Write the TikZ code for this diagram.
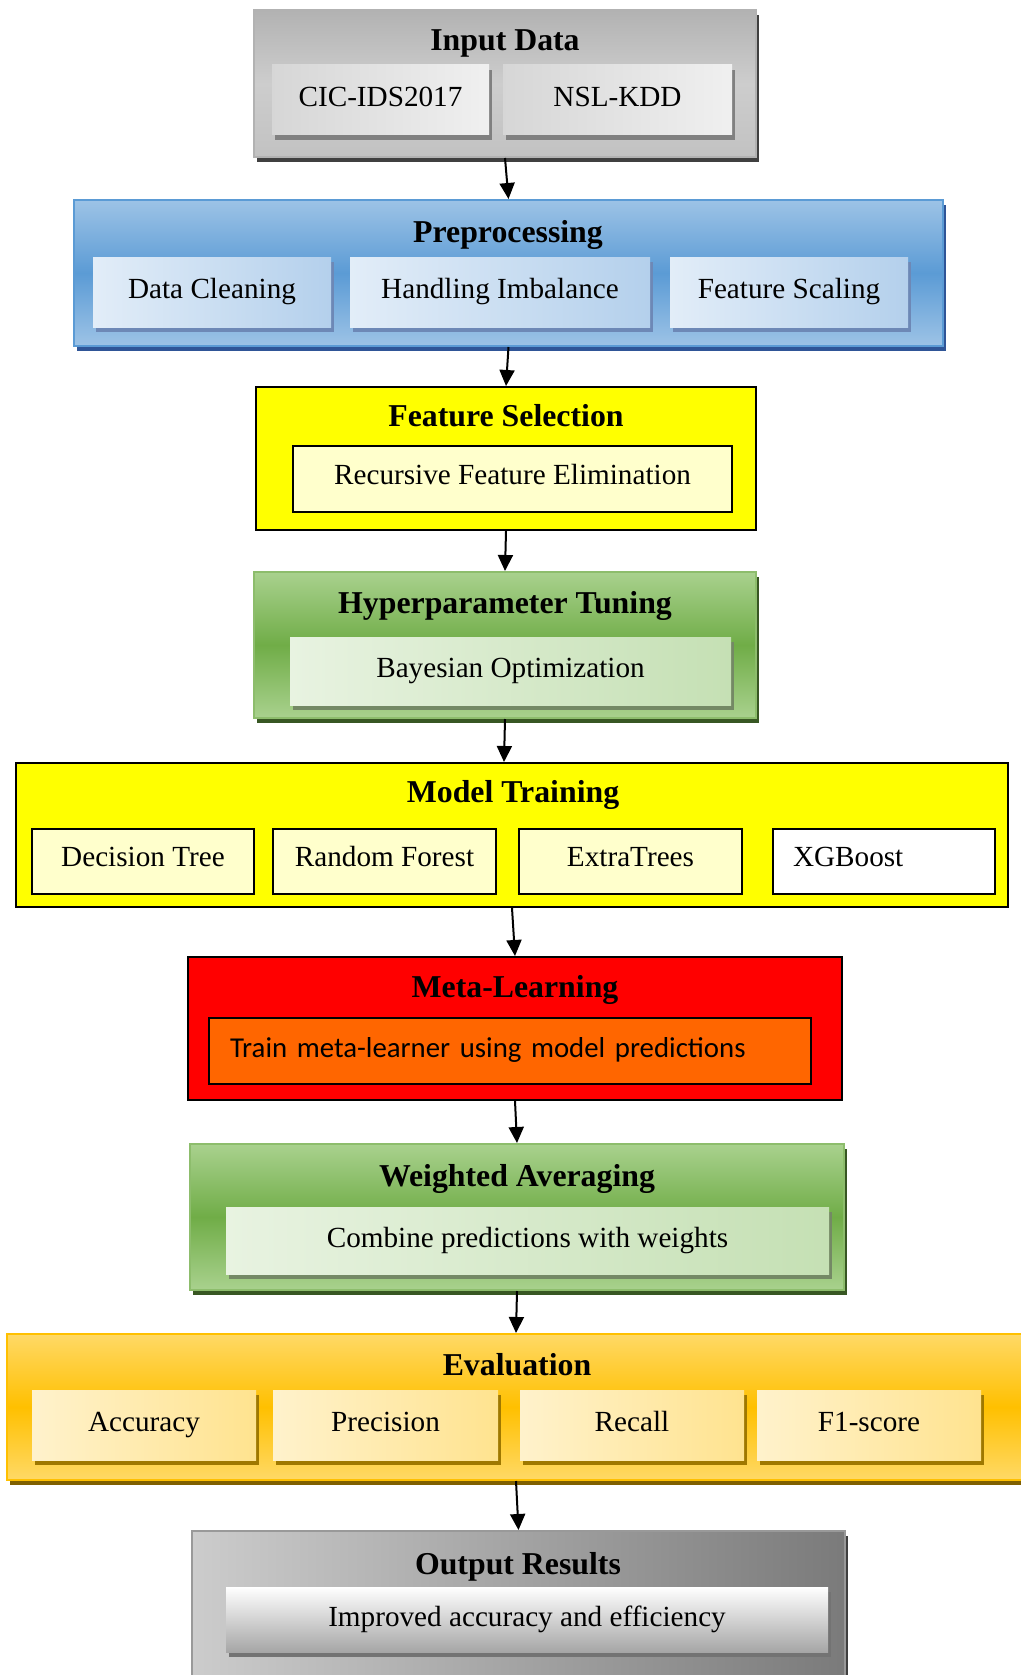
\documentclass[tikz,border=0pt]{standalone}
\usepackage{fontspec}
\setmainfont{Liberation Serif}
\newfontfamily\calibri{Carlito}
\usepackage{tikz}
\usetikzlibrary{arrows.meta, shadows}
\definecolor{grishaut}{HTML}{B2B2B2}
\definecolor{grismilieu}{HTML}{CDCDCD}
\definecolor{grisbas}{HTML}{C2C2C2}
\definecolor{grisombre}{HTML}{404040}
\definecolor{bleuclair}{HTML}{9DC3E6}
\definecolor{bleumoyen}{HTML}{5B9BD5}
\definecolor{bleuombre}{HTML}{2F5597}
\definecolor{bleupale}{HTML}{E2EDF8}
\definecolor{bleudoux}{HTML}{B4D0EC}
\definecolor{vertclair}{HTML}{A9D18E}
\definecolor{vertmoyen}{HTML}{70AD47}
\definecolor{vertombre}{HTML}{385723}
\definecolor{vertpale}{HTML}{E8F3E1}
\definecolor{vertdoux}{HTML}{C5E0B4}
\definecolor{orclair}{HTML}{FFD966}
\definecolor{ormoyen}{HTML}{FFC000}
\definecolor{orombre}{HTML}{7F6000}
\definecolor{orpale}{HTML}{FFF2CC}
\definecolor{ordoux}{HTML}{FFE38F}
\definecolor{jaunevif}{HTML}{FFFF00}
\definecolor{jaunepale}{HTML}{FFFFCC}
\definecolor{rougevif}{HTML}{FF0000}
\definecolor{orangevif}{HTML}{FF6600}

\begin{document}
\begin{tikzpicture}[x=0.5pt, y=-0.5pt,
    etape/.style={rectangle, inner sep=0pt, line width=1pt},
    titre/.style={font=\fontsize{15.9}{19}\selectfont\bfseries,
                  text height=10.5pt, text depth=2.5pt},
    sous/.style={rectangle, inner sep=0pt, font=\fontsize{14.6}{17}\selectfont,
                 text height=9.5pt, text depth=3pt},
    ombre/.style={drop shadow={shadow xshift=1.5pt, shadow yshift=-2.5pt,
                  fill=#1, opacity=1}},
    boitegris/.style={etape, ombre=grisombre, draw=black!30,
                      top color=grishaut, bottom color=grisbas, middle color=grismilieu},
    boitebleu/.style={etape, ombre=bleuombre, draw=bleumoyen,
                      top color=bleuclair, bottom color=bleuclair, middle color=bleumoyen},
    boitevert/.style={etape, ombre=vertombre, draw=vertmoyen!80,
                      top color=vertclair, bottom color=vertclair, middle color=vertmoyen},
    boiteor/.style={etape, ombre=orombre, draw=ormoyen,
                    top color=orclair, bottom color=orclair, middle color=ormoyen},
    boitejaune/.style={etape, fill=jaunevif, draw=black},
    sousgris/.style={sous, ombre=black!50, left color=black!16, right color=black!6},
    sousbleu/.style={sous, ombre=bleuombre!70, left color=bleupale, right color=bleudoux},
    sousvert/.style={sous, ombre=vertombre!70, left color=vertpale, right color=vertdoux},
    sousor/.style={sous, ombre=orombre!75!ormoyen, left color=orpale, right color=ordoux},
    sousjaune/.style={sous, fill=jaunepale, draw=black, line width=0.8pt, text depth=4.5pt},
    fleche/.style={-{Triangle[length=8pt, width=7.5pt]}, line width=1pt}]

    \useasboundingbox (0,0) rectangle (1021,1675);

    % Données d'entrée
    \node[boitegris, minimum width=251pt, minimum height=73.5pt] (entree) at (505,83.5) {};
    \node[titre] (entreeT) at (505,43) {Input Data};
    \node[sousgris, minimum width=108.5pt, minimum height=35pt] (cic) at (380.5,100) {CIC-IDS2017};
    \node[sousgris, minimum width=114.5pt, minimum height=35pt] (nsl) at (617.5,100) {NSL-KDD};

    % Prétraitement
    \node[boitebleu, minimum width=434.5pt, minimum height=73pt] (pretrait) at (508.5,273) {};
    \node[titre] (pretraitT) at (508,234) {Preprocessing};
    \node[sousbleu, minimum width=119pt, minimum height=35pt] (nettoyage) at (212,292) {Data Cleaning};
    \node[sousbleu, minimum width=150pt, minimum height=35pt] (desequilibre) at (500,292) {Handling Imbalance};
    \node[sousbleu, minimum width=119pt, minimum height=35pt] (echelle) at (789,292) {Feature Scaling};

    % Sélection des caractéristiques
    \node[boitejaune, minimum width=250pt, minimum height=71.5pt] (selection) at (506,458.5) {};
    \node[titre] (selectionT) at (506,418) {Feature Selection};
    \node[sousjaune, minimum width=219.5pt, minimum height=33pt] (rfe) at (512.5,479) {Recursive Feature Elimination};

    % Réglage des hyperparamètres
    \node[boitevert, minimum width=251pt, minimum height=73pt] (hyper) at (505,645) {};
    \node[titre] (hyperT) at (505,605) {Hyperparameter Tuning};
    \node[sousvert, minimum width=220.5pt, minimum height=34pt] (bayes) at (510.5,671) {Bayesian Optimization};

    % Entraînement des modèles
    \node[boitejaune, minimum width=496pt, minimum height=72pt] (entrainement) at (512,835) {};
    \node[titre] (entrainementT) at (513,794) {Model Training};
    \node[sousjaune, minimum width=111pt, minimum height=32.5pt] (arbre) at (143,861.5) {Decision Tree};
    \node[sousjaune, minimum width=111.5pt, minimum height=32.5pt] (foret) at (384.5,861.5) {Random Forest};
    \node[sousjaune, minimum width=111.5pt, minimum height=32.5pt] (extra) at (630.5,861.5) {ExtraTrees};
    \node[sous, fill=white, draw=black, line width=0.8pt, minimum width=111pt,
          minimum height=32.5pt, inner xsep=10pt, text width=91pt, align=left,
          text depth=4.5pt] (xgb) at (884,861.5) {XGBoost};

    % Méta-apprentissage
    \node[etape, fill=rougevif, draw=black, minimum width=327pt, minimum height=71.5pt] (meta) at (515,1028.5) {};
    \node[titre] (metaT) at (515,989) {Meta-Learning};
    \node[sous, fill=orangevif, draw=black, line width=0.8pt, minimum width=301pt,
          minimum height=33pt, inner xsep=10.5pt, text width=280pt, align=left,
          font=\calibri\fontsize{14.4}{17}\selectfont]
          (metaS) at (510,1051) {Train meta-learner using model predictions};

    % Moyenne pondérée
    \node[boitevert, minimum width=327pt, minimum height=73pt] (moyenne) at (517,1217) {};
    \node[titre] (moyenneT) at (517,1178) {Weighted Averaging};
    \node[sousvert, minimum width=301.5pt, minimum height=33.5pt] (poids) at (527.5,1240.5) {Combine predictions with weights};

    % Évaluation
    \node[boiteor, minimum width=509pt, minimum height=73pt] (evaluation) at (516,1407) {};
    \node[titre] (evaluationT) at (517,1367) {Evaluation};
    \node[sousor, minimum width=112pt, minimum height=35pt] (exactitude) at (144,1425) {Accuracy};
    \node[sousor, minimum width=112.5pt, minimum height=35pt] (precision) at (385.5,1425) {Precision};
    \node[sousor, minimum width=112pt, minimum height=35pt] (rappel) at (632,1425) {Recall};
    \node[sousor, minimum width=112pt, minimum height=35pt] (fscore) at (869,1425) {F1-score};

    % Résultats
    \node[etape, ombre=grisombre, draw=black!40, left color=black!20, right color=black!52,
          minimum width=326.5pt, minimum height=74.5pt] (sortie) at (518.5,1605.5) {};
    \node[titre] (sortieT) at (518,1566) {Output Results};
    \node[sous, ombre=black!55, top color=white, bottom color=black!35,
          minimum width=301pt, minimum height=32.5pt] (amelioration) at (527,1619.5) {Improved accuracy and efficiency};

    % Flèches entre les étapes
    \draw[fleche] (entree.south) -- (pretrait.north);
    \draw[fleche] (pretrait.south) -- (selection.north);
    \draw[fleche] (selection.south) -- (hyper.north);
    \draw[fleche] (hyper.south) -- ([xshift=-4pt]entrainement.north);
    \draw[fleche] (entrainement.south) -- (meta.north);
    \draw[fleche] (meta.south) -- (moyenne.north);
    \draw[fleche] (moyenne.south) -- (evaluation.north);
    \draw[fleche] (evaluation.south) -- (sortie.north);

  \end{tikzpicture}
\end{document}
